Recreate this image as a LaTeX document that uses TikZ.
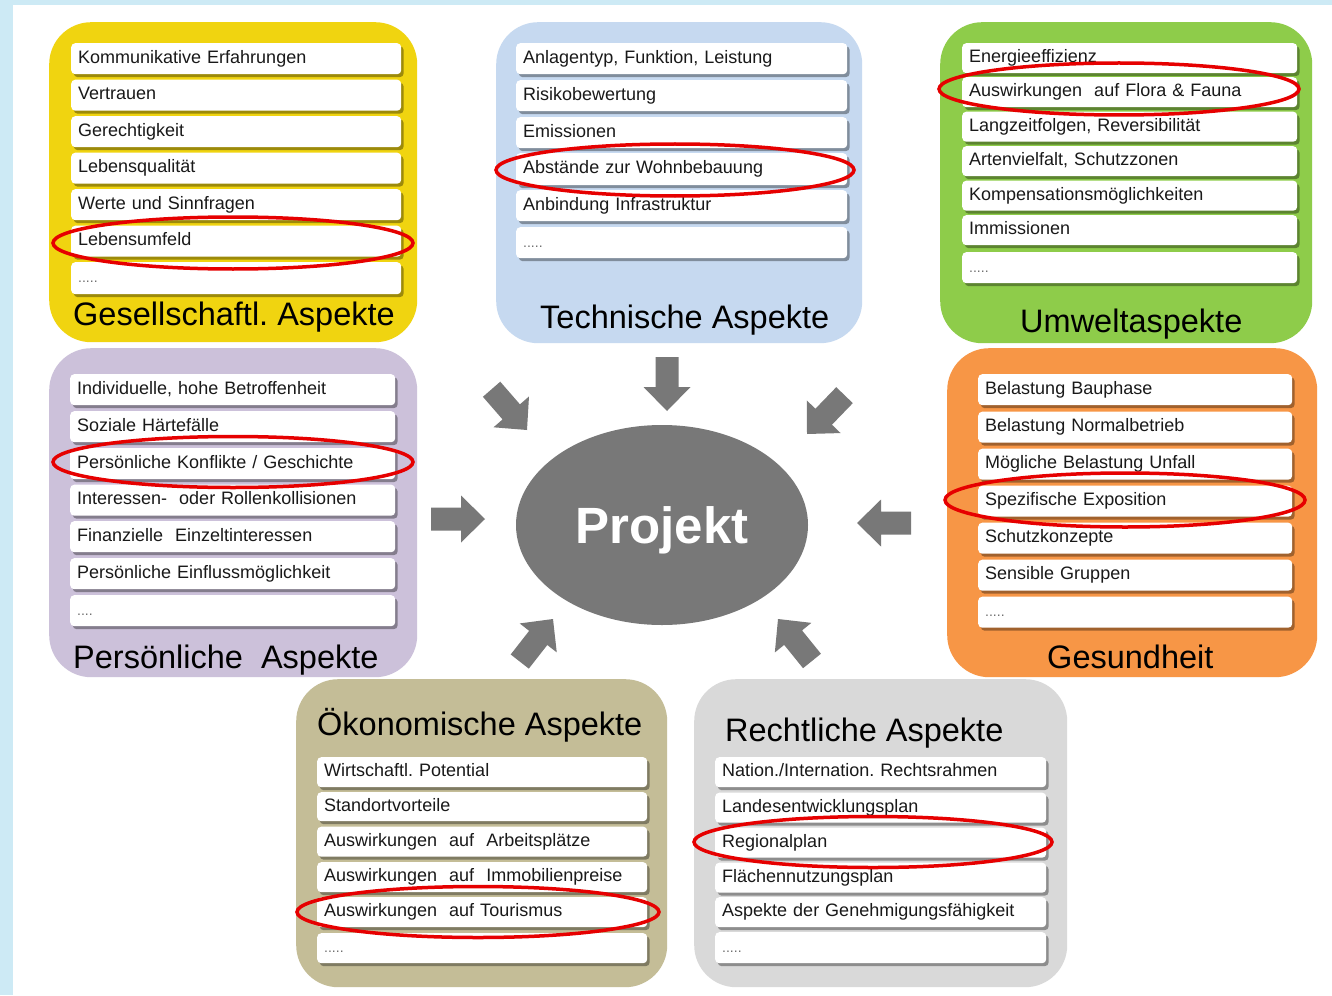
\documentclass[tikz,border=0pt]{standalone}
\usepackage{fontspec}
\setmainfont{Liberation Sans}
\usetikzlibrary{shadows,shapes.geometric}
\definecolor{bgblue}{RGB}{205,234,245}
\definecolor{pyellow}{RGB}{240,212,16}
\definecolor{pblue}{RGB}{198,217,240}
\definecolor{pgreen}{RGB}{142,204,74}
\definecolor{plav}{RGB}{204,193,218}
\definecolor{porange}{RGB}{247,150,70}
\definecolor{pkhaki}{RGB}{196,189,151}
\definecolor{pgray}{RGB}{217,217,217}
\definecolor{projgray}{RGB}{120,120,120}
\definecolor{ringred}{RGB}{230,0,0}
\definecolor{txt}{RGB}{25,25,25}
\definecolor{dotgray}{RGB}{110,110,110}
\newcommand\aitm[6]{\node[itm, text width=#4pt, minimum height=#5pt] (#1) at (#2,#3) {#6};}
\newcommand\dotsfill{{\color{dotgray}\fontsize{14}{16}\selectfont .....}}
\frenchspacing
\begin{document}
\frenchspacing
\begin{tikzpicture}[x=1pt,y=-1pt,
  panel/.style={rounded corners=42pt, anchor=north west, inner sep=0pt, draw=none},
  itm/.style={fill=white, rounded corners=4pt, anchor=north west, inner xsep=7pt, inner ysep=0pt,
    text height=13pt, text depth=4pt, align=left, text=txt, font=\fontsize{18}{20}\selectfont,
    drop shadow={shadow xshift=2.5pt, shadow yshift=-3pt, opacity=0.35, fill=black}},
  ttl/.style={anchor=base west, inner sep=0pt, font=\fontsize{32.5}{36}\selectfont, text=black},
  ring/.style={ellipse, draw=ringred, line width=3.5pt, inner sep=0pt, fill=none},
  blockarrow/.pic={\fill[projgray] (0,0) -- (-24,-23.5) -- (-24,-11.5) -- (-54,-11.5) -- (-54,11.5) -- (-24,11.5) -- (-24,23.5) -- cycle;}]
\useasboundingbox (0,0) rectangle (1332,995);
\fill[white] (0,0) rectangle (1332,995);
\fill[bgblue] (0,0) rectangle (1332,5);
\fill[bgblue] (0,0) rectangle (13,995);

% panels
\node[panel, fill=pyellow, minimum width=368pt, minimum height=320pt] (P1) at (49,22) {};
\node[panel, fill=pblue, minimum width=366pt, minimum height=321pt] (P2) at (496,22) {};
\node[panel, fill=pgreen, minimum width=372pt, minimum height=321pt] (P3) at (940,22) {};
\node[panel, fill=plav, minimum width=368pt, minimum height=329pt] (P4) at (49,348) {};
\node[panel, fill=porange, minimum width=370pt, minimum height=329pt] (P5) at (947,348) {};
\node[panel, fill=pkhaki, minimum width=371pt, minimum height=308pt] (P6) at (296,679) {};
\node[panel, fill=pgray, minimum width=373pt, minimum height=308pt] (P7) at (694,679) {};

% Gesellschaftl.
\aitm{g1}{71}{43}{316}{31}{Kommunikative Erfahrungen}
\aitm{g2}{71}{79.5}{316}{31}{Vertrauen}
\aitm{g3}{71}{116}{316}{31}{Gerechtigkeit}
\aitm{g4}{71}{152.5}{316}{31}{Lebensqualität}
\aitm{g5}{71}{189}{316}{31}{Werte und Sinnfragen}
\aitm{g6}{71}{225.5}{316}{31}{Lebensumfeld}
\aitm{g7}{71}{262}{316}{32}{\dotsfill}
\node[ttl] (gT) at (73,325) {Gesellschaftl. Aspekte};

% Technische
\aitm{t1}{516}{43}{317}{31}{Anlagentyp, Funktion, Leistung}
\aitm{t2}{516}{80}{317}{31}{Risikobewertung}
\aitm{t3}{516}{117}{317}{31}{Emissionen}
\aitm{t4}{516}{153}{317}{32}{Abstände zur Wohnbebauung}
\aitm{t5}{516}{190}{317}{31}{Anbindung Infrastruktur}
\aitm{t6}{516}{227}{317}{31}{\dotsfill}
\node[ttl] (tT) at (540,328) {Technische Aspekte};

% Umwelt
\aitm{u1}{962}{43}{321}{30}{Energieeffizienz}
\aitm{u2}{962}{77}{321}{30}{Auswirkungen\ \ auf Flora \& Fauna}
\aitm{u3}{962}{111.5}{321}{30}{Langzeitfolgen, Reversibilität}
\aitm{u4}{962}{146}{321}{30}{Artenvielfalt, Schutzzonen}
\aitm{u5}{962}{180.5}{321}{30}{Kompensationsmöglichkeiten}
\aitm{u6}{962}{215}{321}{30}{Immissionen}
\aitm{u7}{962}{252}{321}{31}{\dotsfill}
\node[ttl] (uT) at (1020,332) {Umweltaspekte};

% Persoenliche
\aitm{p1}{70}{374}{311}{31}{Individuelle, hohe Betroffenheit}
\aitm{p2}{70}{411}{311}{31}{Soziale Härtefälle}
\aitm{p3}{70}{448}{311}{31}{Persönliche Konflikte / Geschichte}
\aitm{p4}{70}{484.5}{311}{31}{Interessen-\ \ oder Rollenkollisionen}
\aitm{p5}{70}{521}{311}{31}{Finanzielle\ \ Einzeltinteressen}
\aitm{p6}{70}{558}{311}{31}{Persönliche Einflussmöglichkeit}
\aitm{p7}{70}{595}{311}{31}{{\color{dotgray}\fontsize{14}{16}\selectfont ....}}
\node[ttl] (pT) at (73,668) {Persönliche\ \ Aspekte};

% Gesundheit
\aitm{h1}{978}{374}{300}{31}{Belastung Bauphase}
\aitm{h2}{978}{411.5}{300}{31}{Belastung Normalbetrieb}
\aitm{h3}{978}{448.5}{300}{31}{Mögliche Belastung Unfall}
\aitm{h4}{978}{485.5}{300}{31}{Spezifische Exposition}
\aitm{h5}{978}{522.5}{300}{31}{Schutzkonzepte}
\aitm{h6}{978}{559.5}{300}{31}{Sensible Gruppen}
\aitm{h7}{978}{596.5}{300}{31}{\dotsfill}
\node[ttl] (hT) at (1047,668) {Gesundheit};

% Oekonomische
\node[ttl] (oT) at (317,735) {Ökonomische Aspekte};
\aitm{o1}{317}{757}{316}{30}{Wirtschaftl. Potential}
\aitm{o2}{317}{792}{316}{29}{Standortvorteile}
\aitm{o3}{317}{826.5}{316}{30}{Auswirkungen\ \ auf\ \ Arbeitsplätze}
\aitm{o4}{317}{862}{316}{30}{Auswirkungen\ \ auf\ \ Immobilienpreise}
\aitm{o5}{317}{897}{316}{30}{Auswirkungen\ \ auf Tourismus}
\aitm{o6}{317}{933}{316}{30}{\dotsfill}

% Rechtliche
\node[ttl] (rT) at (725,741) {Rechtliche Aspekte};
\aitm{r1}{715}{757}{317}{30}{Nation./Internation. Rechtsrahmen}
\aitm{r2}{715}{792.5}{317}{30}{Landesentwicklungsplan}
\aitm{r3}{715}{827.5}{317}{30}{Regionalplan}
\aitm{r4}{715}{862.5}{317}{30}{Flächennutzungsplan}
\aitm{r5}{715}{897}{317}{30}{Aspekte der Genehmigungsfähigkeit}
\aitm{r6}{715}{932}{317}{31}{\dotsfill}

% red rings
\node[ring, minimum width=360pt, minimum height=52pt] (e1) at (233,243) {};
\node[ring, minimum width=358pt, minimum height=52pt] (e2) at (675,170) {};
\node[ring, minimum width=360pt, minimum height=52pt] (e3) at (1119,89) {};
\node[ring, minimum width=360pt, minimum height=51pt] (e4) at (233,462) {};
\node[ring, minimum width=360pt, minimum height=54pt] (e5) at (1125,500) {};
\node[ring, minimum width=362pt, minimum height=51pt] (e6) at (478,912) {};
\node[ring, minimum width=358pt, minimum height=51pt] (e7) at (873,842) {};

% center
\node[ellipse, fill=projgray, minimum width=292pt, minimum height=200pt, inner sep=0pt,
  text=white, font=\bfseries\fontsize{51}{56}\selectfont, text height=37pt, text depth=0pt] (proj) at (662,525) {Projekt};

% block arrows
\coordinate (aT) at (667,411);
\coordinate (aL) at (485,519);
\coordinate (aR) at (857,523);
\coordinate (aTL) at (527,430);
\coordinate (aTR) at (807,434);
\coordinate (aBL) at (553,619);
\coordinate (aBR) at (778,619);
\pic[rotate=-90] at (aT) {blockarrow};
\pic[rotate=0] at (aL) {blockarrow};
\pic[rotate=180] at (aR) {blockarrow};
\pic[rotate=-49] at (aTL) {blockarrow};
\pic[rotate=-134] at (aTR) {blockarrow};
\pic[rotate=52] at (aBL) {blockarrow};
\pic[rotate=129] at (aBR) {blockarrow};
\end{tikzpicture}
\end{document}
